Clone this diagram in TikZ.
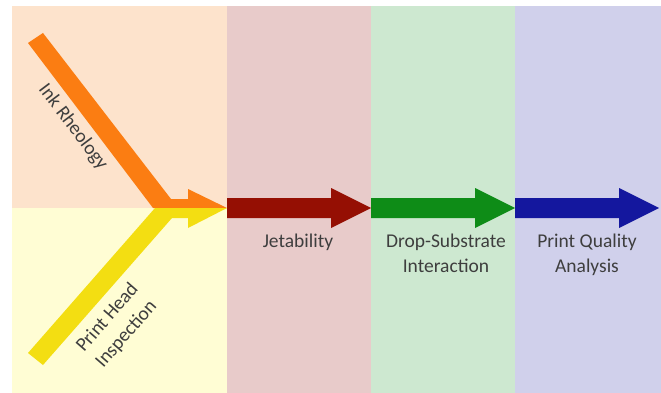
\documentclass[tikz,border=0pt]{standalone}
\usepackage{fontspec}
\setmainfont{Carlito}
\usetikzlibrary{positioning}
\definecolor{peachbg}{HTML}{FDE3CC}
\definecolor{creambg}{HTML}{FFFDD4}
\definecolor{pinkbg}{HTML}{E8CBCA}
\definecolor{greenbg}{HTML}{CDE8D0}
\definecolor{lavenderbg}{HTML}{D0D0EB}
\definecolor{inkorange}{HTML}{FB7D12}
\definecolor{headyellow}{HTML}{F3DE12}
\definecolor{jetred}{HTML}{950F03}
\definecolor{dropgreen}{HTML}{0E8C17}
\definecolor{qualblue}{HTML}{14179E}
\definecolor{labelgray}{HTML}{3E3E3E}
\tikzset{
  band/.style={draw=none},
  lbl/.style={text=labelgray,font=\fontsize{19.5}{25}\selectfont,
    align=center,inner sep=0pt}
}

\begin{document}
\begin{tikzpicture}[x=1pt,y=-1pt]
\useasboundingbox (0,0) rectangle (661,393);
% stage columns
\fill[peachbg] (12,6) rectangle (227,208);
\fill[creambg] (12,208) rectangle (227,393);
\fill[pinkbg] (227,6) rectangle (371,393);
\fill[greenbg] (371,6) rectangle (515,393);
\fill[lavenderbg] (515,6) rectangle (661,393);
% the two inputs merging
\coordinate (join) at (227,208);
\fill[band,inkorange] (28,43) -- (43,33) -- (171,199) -- (188,199) -- (188,189)
  -- (join) -- (153,208) -- cycle;
\fill[band,headyellow] (28,353) -- (155,208) -- (join) -- (188,228) -- (188,218)
  -- (172,218) -- (43,365) -- cycle;
% process arrows
\foreach \xa/\col in {227/jetred,371/dropgreen,515/qualblue}
  \fill[band,\col] (\xa,198) -- ++(104,0) -- ++(0,-10) -- ++(40,20) -- ++(-40,20)
    -- ++(0,-10) -- ++(-104,0) -- cycle;
% labels
\node[lbl,rotate=-53] (ink) at (73,127) {Ink Rheology};
\node[lbl,rotate=49] (head) at (117,326) {Print Head\\Inspection};
\node[lbl,anchor=north] (jet) at (298,234) {Jetability};
\node[lbl,anchor=north] (drop) at (446,234) {Drop-Substrate\\Interaction};
\node[lbl,anchor=north] (qual) at (587,234) {Print Quality\\Analysis};
\end{tikzpicture}
\end{document}
